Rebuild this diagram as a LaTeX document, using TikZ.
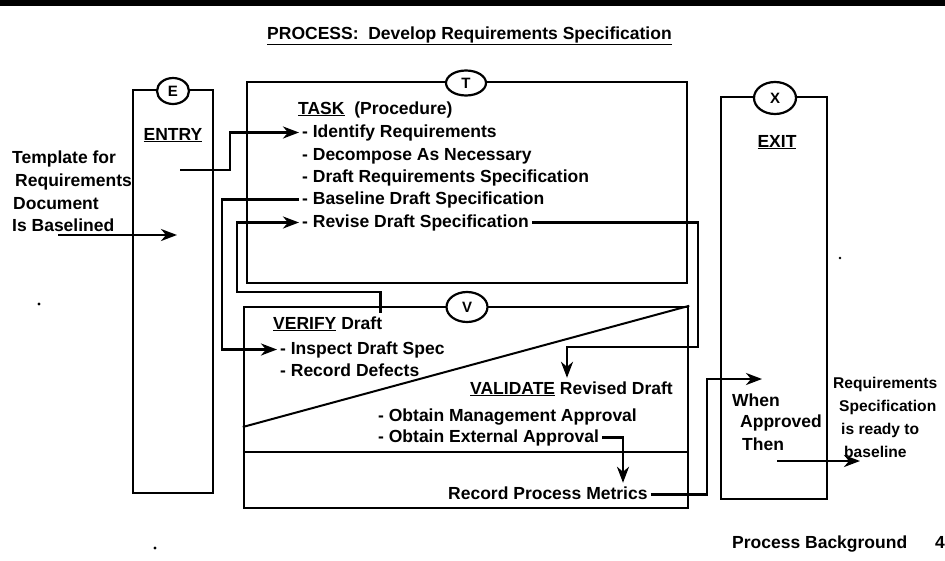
\documentclass[tikz,border=0pt]{standalone}
\usepackage{fontspec}
\setmainfont{Liberation Sans}
\usetikzlibrary{
  arrows.meta,
  calc,
  positioning,
  shapes.geometric
}
\tikzset{
  procbox/.style={draw,line width=2.4pt,inner sep=0pt},
  tag/.style={draw,ellipse,line width=2.2pt,fill=white,inner sep=0pt,
    font=\bfseries\fontsize{15}{15}\selectfont},
  txt/.style={anchor=base west,inner sep=3pt,text height=13pt,text depth=4pt,
    font=\bfseries\fontsize{17.5}{21}\selectfont},
  edgetxt/.style={txt,font=\bfseries\fontsize{15.6}{19}\selectfont},
  flow/.style={-{Stealth[length=16pt,width=12pt,inset=5pt]},line width=2.6pt},
  divide/.style={line width=2pt}
}

\begin{document}
\begin{tikzpicture}[x=1pt,y=-1pt]
  \fill[white] (0,0) rectangle (945,560);
  \useasboundingbox (0,0) rectangle (945,560);
  \fill (0,0) rectangle (945,6);

  \node[txt] (title) at (264,39) {\underline{PROCESS:\ \ Develop Requirements Specification}};

  % the four boxes
  \node[procbox,minimum width=80pt,minimum height=403pt] (entrybox) at (173,291.5) {};
  \node[procbox,minimum width=440pt,minimum height=201pt] (taskbox) at (467,182.5) {};
  \node[procbox,minimum width=444pt,minimum height=201pt] (verifybox) at (466,407.5) {};
  \node[procbox,minimum width=106pt,minimum height=402pt] (exitbox) at (774,298) {};
  \draw[divide] (verifybox.north east) -- (verifybox.west |- 0,427);
  \draw[divide] (verifybox.west |- 0,452) -- (verifybox.east |- 0,452);

  \node[tag,minimum width=32pt,minimum height=26pt] (etag) at (173,91) {E};
  \node[tag,minimum width=40pt,minimum height=25pt] (ttag) at (466,83) {T};
  \node[tag,minimum width=41pt,minimum height=30pt] (vtag) at (467,307) {V};
  \node[tag,minimum width=42pt,minimum height=32pt] (xtag) at (775,98) {X};

  % entry
  \node[txt,anchor=base] (entrylbl) at (173,140) {\underline{ENTRY}};
  \node[txt] (tpl1) at (9,163) {Template for};
  \node[txt] (tpl2) at (12,186) {Requirements};
  \node[txt] (tpl3) at (10,209) {Document};
  \node[txt] (tpl4) at (9,231) {Is Baselined};

  % task
  \node[txt] (tasklbl) at (295,114) {\underline{TASK}\ \ (Procedure)};
  \node[txt] (identify) at (299,137) {- Identify Requirements};
  \node[txt] (decompose) at (299,160) {- Decompose As Necessary};
  \node[txt] (draftreq) at (299,182) {- Draft Requirements Specification};
  \node[txt] (baseline) at (299,204) {- Baseline Draft Specification};
  \node[txt] (revise) at (299,227) {- Revise Draft Specification};

  % verify / validate
  \node[txt] (verifylbl) at (270,329) {\underline{VERIFY} Draft};
  \node[txt] (inspect) at (277,354) {- Inspect Draft Spec};
  \node[txt] (defects) at (277,376) {- Record Defects};
  \node[txt] (validlbl) at (467,394) {\underline{VALIDATE} Revised Draft};
  \node[txt] (mgmt) at (375,421) {- Obtain Management Approval};
  \node[txt] (external) at (375,442) {- Obtain External Approval};
  \node[txt] (metrics) at (445,499) {Record Process Metrics};

  % exit
  \node[txt,anchor=base] (exitlbl) at (777,147) {\underline{EXIT}};
  \node[txt] (when) at (729,406) {When};
  \node[txt] (approved) at (737,427) {Approved};
  \node[txt] (then) at (739,450) {Then};
  \node[edgetxt] (req1) at (830,388) {Requirements};
  \node[edgetxt] (req2) at (836,411) {Specification};
  \node[edgetxt] (req3) at (838,434) {is ready to};
  \node[edgetxt] (req4) at (841,457) {baseline};

  \node[txt] (footer) at (729,548) {Process Background};
  \node[txt] (pagenum) at (932,548) {4};

  \fill (39,304) circle (1.6pt);
  \fill (155,548) circle (1.6pt);
  \fill (840,258) circle (1.4pt);

  % connectors
  \coordinate (tplin) at (58,235);
  \coordinate (entryin) at (177,235);
  \draw[flow] (tplin) -- (entryin);
  \coordinate (entryout) at (180,170);
  \draw[flow] (entryout) -- ++(50,0) |- (identify.west);
  \draw[flow] (baseline.west) -- ++(-77,0) |- (inspect.west);
  \coordinate (vloop) at (237,292);
  \draw[flow] ([xshift=-5pt]verifylbl.north east) |- (vloop) |- (revise.west);
  \coordinate (rturn) at (698,347);
  \draw[flow] (revise.east) -| (rturn) -| ([xshift=100pt]validlbl.north west);
  \draw[flow] (external.east) -| ([xshift=178pt]metrics.north west);
  \coordinate (mturn) at (707,379);
  \coordinate (exitin) at (762,379);
  \draw[flow] (metrics.east) -| (mturn) -- (exitin);
  \coordinate (thenout) at (777,461);
  \coordinate (readyin) at (860,461);
  \draw[flow] (thenout) -- (readyin);
\end{tikzpicture}
\end{document}
